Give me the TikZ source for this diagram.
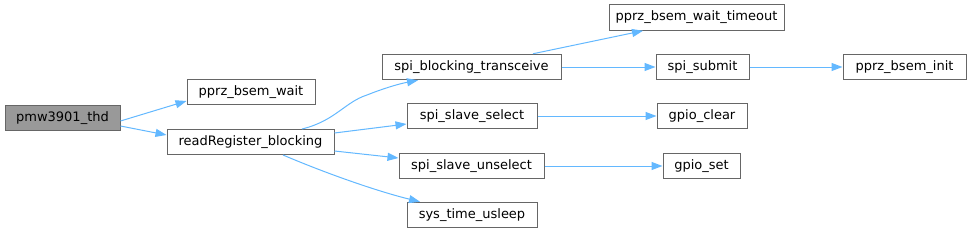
\documentclass[tikz,border=0pt]{standalone}
\usepackage{fontspec}
\setmainfont{DejaVu Sans}
\usetikzlibrary{arrows.meta}
\definecolor{edgeblue}{HTML}{63B8FF}
\definecolor{boxline}{HTML}{666666}
\definecolor{rootfill}{HTML}{999999}
\begin{document}
\begin{tikzpicture}[x=1pt,y=-1pt,
  fn/.style={draw=boxline, line width=1pt, fill=white, minimum height=25.5pt, inner sep=0pt, font=\fontsize{13}{15}\selectfont, text=black},
  root/.style={fn, fill=rootfill},
  call/.style={draw=edgeblue, line width=1pt, -{Triangle[length=11pt,width=8pt]}}]
\useasboundingbox (0,0) rectangle (971,233);
\node[root, minimum width=115pt] (thd) at (62.5,118) {pmw3901\_thd};
\node[fn, minimum width=128pt] (wait) at (251,92) {pprz\_bsem\_wait};
\node[fn, minimum width=167pt] (read) at (250.5,142) {readRegister\_blocking};
\node[fn, minimum width=179pt] (sbt) at (471.5,67) {spi\_blocking\_transceive};
\node[fn, minimum width=175pt] (tmo) at (696.5,17.5) {pprz\_bsem\_wait\_timeout};
\node[fn, minimum width=93pt] (sub) at (702.5,67) {spi\_submit};
\node[fn, minimum width=123pt] (init) at (904.5,67) {pprz\_bsem\_init};
\node[fn, minimum width=130pt] (sel) at (472,116) {spi\_slave\_select};
\node[fn, minimum width=90pt] (clr) at (702,116) {gpio\_clear};
\node[fn, minimum width=77pt] (set) at (701.5,166) {gpio\_set};
\node[fn, minimum width=145pt] (uns) at (471.5,166) {spi\_slave\_unselect};
\node[fn, minimum width=130pt] (usl) at (472,215) {sys\_time\_usleep};

\draw[call] (thd.east |- 0,121) -- (wait.west |- 0,101);
\draw[call] (thd.east |- 0,126) -- (read.west |- 0,135);
\draw[call] (302,129) .. controls (335,121) and (345,102) .. (367,95) .. controls (382,89) and (398,84) .. (sbt.south -| 418,0);
\draw[call] (read.east |- 0,133) -- (sel.west |- 0,124);
\draw[call] (read.east |- 0,151) -- (uns.west |- 0,158);
\draw[call] (283,155) .. controls (330,175) and (380,192) .. (usl.north -| 420,0);
\draw[call] (sbt.north -| 533,0) -- (tmo.south -| 643,0);
\draw[call] (sbt) -- (sub);
\draw[call] (sub) -- (init);
\draw[call] (sel) -- (clr);
\draw[call] (uns) -- (set);
\end{tikzpicture}
\end{document}
